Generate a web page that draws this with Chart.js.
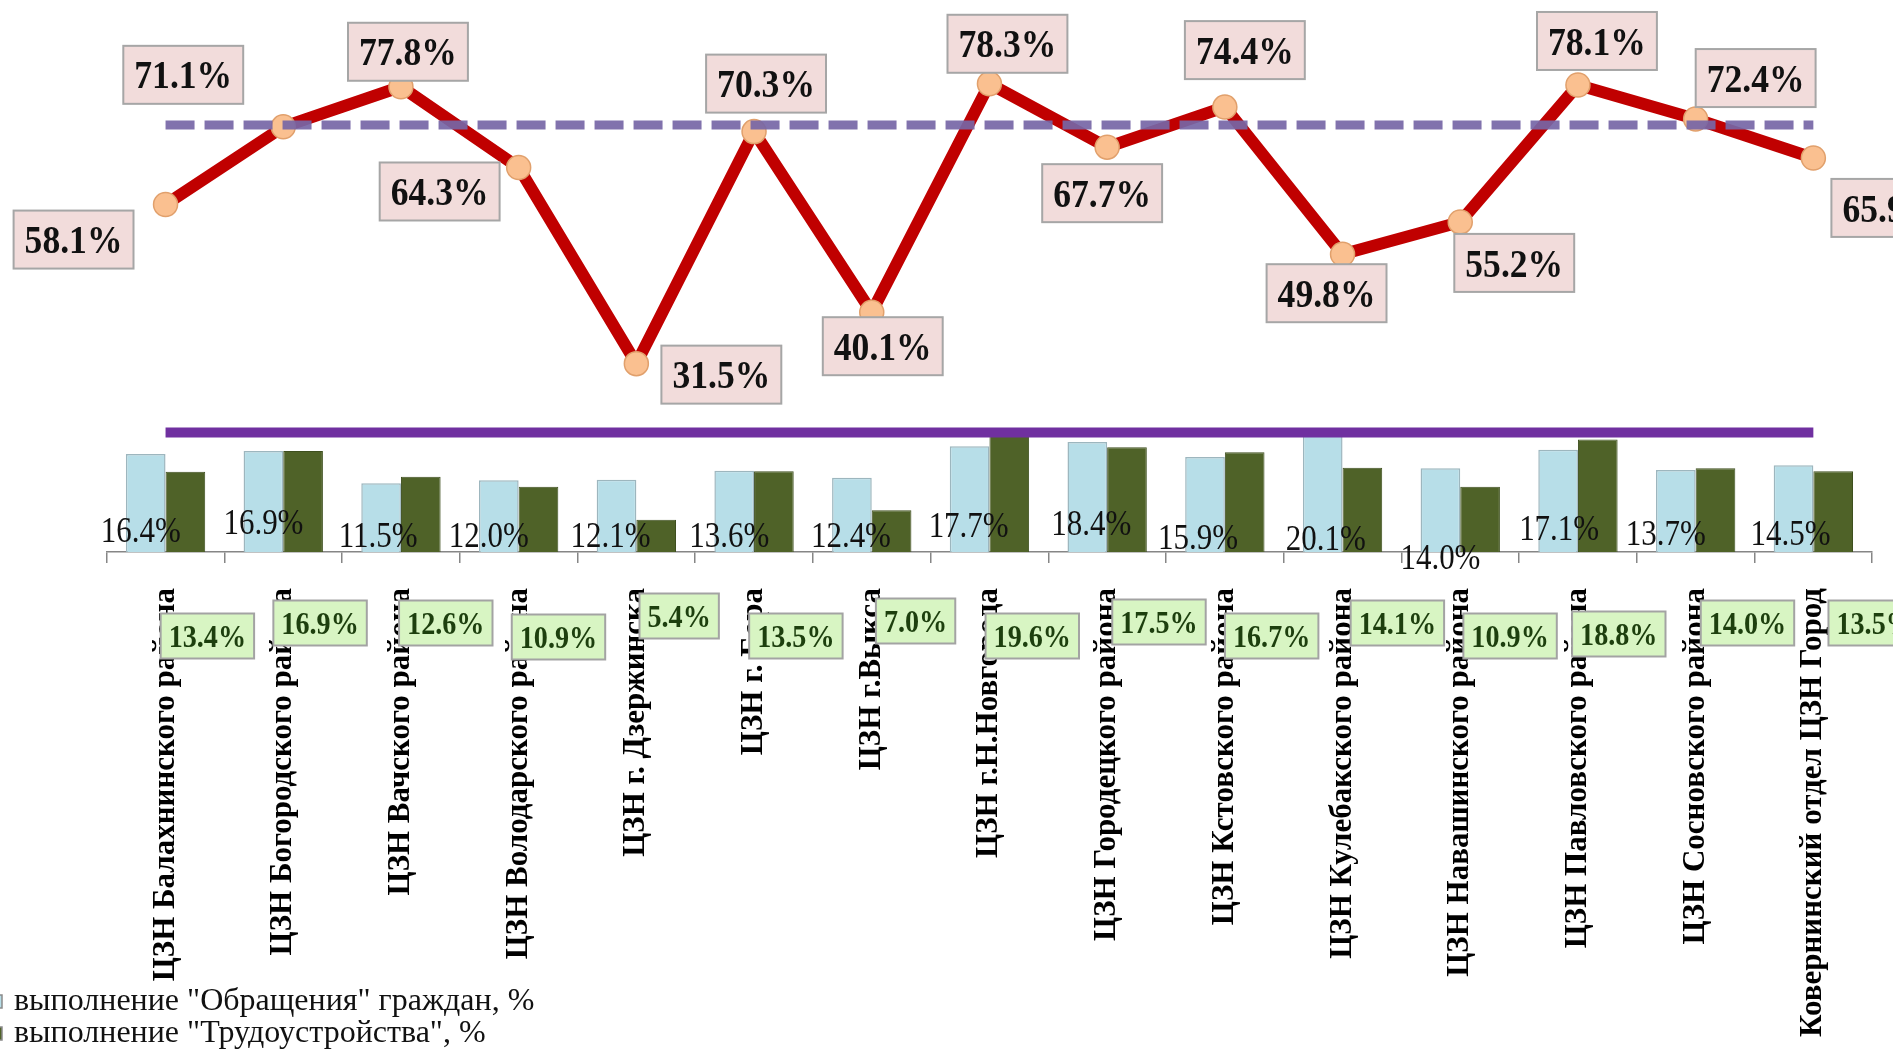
<!DOCTYPE html>
<html>
<head>
<meta charset="utf-8">
<script src="https://cdn.jsdelivr.net/npm/chart.js@4.4.0/dist/chart.umd.min.js"></script>
<style>
  html, body { margin: 0; padding: 0; background: #fff; overflow: hidden; }
  #wrap { position: relative; width: 1893px; height: 1059px; }
</style>
</head>
<body>
<div id="wrap"><canvas id="chart" width="1893" height="1059"></canvas></div>
<script>
// categories along the x-axis
const centers = [
  'ЦЗН Балахнинского района',
  'ЦЗН Богородского района',
  'ЦЗН Вачского района',
  'ЦЗН Володарского района',
  'ЦЗН г. Дзержинска',
  'ЦЗН г. Бора',
  'ЦЗН г.Выкса',
  'ЦЗН г.Н.Новгорода',
  'ЦЗН Городецкого района',
  'ЦЗН Кстовского района',
  'ЦЗН Кулебакского района',
  'ЦЗН Навашинского района',
  'ЦЗН Павловского района',
  'ЦЗН Сосновского района',
  'Ковернинский отдел ЦЗН Город'
]
// bars
const obrashcheniya = [16.4, 16.9, 11.5, 12.0, 12.1, 13.6, 12.4, 17.7, 18.4, 15.9, 20.1, 14.0, 17.1, 13.7, 14.5]
const trudoustroistvo = [13.4, 16.9, 12.6, 10.9, 5.4, 13.5, 7.0, 19.6, 17.5, 16.7, 14.1, 10.9, 18.8, 14.0, 13.5]
// red line
const dolya = [58.1, 71.1, 77.8, 64.3, 31.5, 70.3, 40.1, 78.3, 67.7, 74.4, 49.8, 55.2, 78.1, 72.4, 65.9]
// reference levels
const dolyaLevel = 71.4
const obrLevel = 20.0

const serif = "'Liberation Serif', 'Times New Roman', serif"

// hand placed label nudges, px from the point / bar
const redShift = [[-92, 35], [-100, -52], [7, -35], [-79, 24], [85, 11], [12, -48], [11, 34], [18, -40],
  [-5, 46], [20, -57], [-16, 39], [54, 41], [19, -44], [60, -41], [78, 50]]
const greenShift = [[22, 84], [17, 71], [25, 71], [20, 85], [23, 64], [22, 84], [24, 69], [23, 84],
  [32, 70], [27, 84], [35, 71], [30, 84], [21, 82], [32, 71], [42, 71]]
const blueShift = [[-5, -22], [0, -30], [-3, -17], [-10, -17], [-6, -17], [-5, -17], [-1, -17], [-1, -27],
  [4, -29], [-7, -15], [3, -14], [0, 5], [1, -24], [-10, -19], [-3, -19]]

function drawTag(ctx, cx, cy, text, o) {
  ctx.save()
  ctx.font = o.font
  const tw = ctx.measureText(text).width * o.sx
  if (o.fill) {
    const w = tw + o.padX * 2
    ctx.fillStyle = o.fill
    ctx.fillRect(cx - w / 2, cy - o.h / 2, w, o.h)
    ctx.strokeStyle = o.stroke
    ctx.lineWidth = 2
    ctx.strokeRect(cx - w / 2, cy - o.h / 2, w, o.h)
  }
  ctx.translate(cx, cy + o.size * 0.34)
  ctx.scale(o.sx, 1)
  ctx.textAlign = 'center'
  ctx.textBaseline = 'alphabetic'
  ctx.fillStyle = o.color
  ctx.fillText(text, 0, 0)
  ctx.restore()
}

const fmt = v => v.toFixed(1) + '%'

const tags = {
  id: 'tags',
  afterDraw(chart) {
    const ctx = chart.ctx
    const axisY = chart.scales.y.getPixelForValue(0)

    // blue bar values
    chart.getDatasetMeta(3).data.forEach((bar, i) => {
      drawTag(ctx, bar.x + blueShift[i][0], axisY + blueShift[i][1], fmt(obrashcheniya[i]),
        { font: '36px ' + serif, size: 36, sx: 0.86, color: '#111' })
    })
    // green bar values, boxed under the axis
    chart.getDatasetMeta(4).data.forEach((bar, i) => {
      drawTag(ctx, bar.x + greenShift[i][0], axisY + greenShift[i][1], fmt(trudoustroistvo[i]),
        { font: 'bold 32px ' + serif, size: 32, sx: 0.88, color: '#1d3f0e',
          fill: '#d8f5c3', stroke: '#a3a3a3', padX: 8, h: 45 })
    })
    // red line values
    chart.getDatasetMeta(0).data.forEach((pt, i) => {
      drawTag(ctx, pt.x + redShift[i][0], pt.y + redShift[i][1], fmt(dolya[i]),
        { font: 'bold 40px ' + serif, size: 40, sx: 0.89, color: '#111',
          fill: '#f2dcdb', stroke: '#a6a6a6', padX: 11, h: 58 })
    })

    // legend, left part cut by the picture edge
    ctx.save()
    ctx.font = '32px ' + serif
    ctx.textBaseline = 'alphabetic'
    ;[3, 4].forEach((d, k) => {
      const ds = chart.data.datasets[d]
      const base = 1010 + k * 32
      ctx.fillStyle = ds.backgroundColor
      ctx.fillRect(-12, base - 15, 14, 13)
      ctx.strokeStyle = '#8a8a8a'
      ctx.lineWidth = 1.5
      ctx.strokeRect(-12, base - 15, 14, 13)
      ctx.fillStyle = '#111'
      ctx.fillText(ds.label, 14, base)
    })
    ctx.restore()
  }
}

new Chart(document.getElementById('chart'), {
  type: 'bar',
  data: {
    labels: centers,
    datasets: [
      {
        type: 'line',
        label: 'доля трудоустроенных, %',
        data: dolya,
        borderColor: '#c00000',
        borderWidth: 12,
        pointRadius: 12,
        pointBackgroundColor: '#fac090',
        pointBorderColor: '#e1a06c',
        pointBorderWidth: 1.5,
        tension: 0,
        clip: false,
        order: 1
      },
      {
        type: 'line',
        label: 'уровень по области, %',
        data: centers.map(() => dolyaLevel),
        borderColor: 'rgba(118, 102, 166, 0.92)',
        borderWidth: 9,
        borderDash: [29, 10],
        pointRadius: 0,
        order: 0
      },
      {
        type: 'line',
        label: 'уровень "Обращения", %',
        data: centers.map(() => obrLevel),
        borderColor: '#7030a0',
        borderWidth: 10,
        pointRadius: 0,
        order: 2
      },
      {
        label: 'выполнение "Обращения" граждан, %',
        data: obrashcheniya,
        backgroundColor: '#b7dee8',
        borderColor: '#9db6be',
        borderWidth: 1.5,
        categoryPercentage: 0.674,
        barPercentage: 1.0,
        order: 3
      },
      {
        label: 'выполнение "Трудоустройства", %',
        data: trudoustroistvo,
        backgroundColor: '#4f6228',
        borderColor: '#3e4f1f',
        borderWidth: 1,
        categoryPercentage: 0.674,
        barPercentage: 1.0,
        order: 4
      }
    ]
  },
  options: {
    responsive: false,
    animation: false,
    layout: { autoPadding: false, padding: { left: 106.7, right: 20.8, top: 0, bottom: 0 } },
    plugins: {
      legend: { display: false },
      tooltip: { enabled: false }
    },
    scales: {
      x: {
        afterFit(scale) { scale.height = 507 },
        grid: {
          offset: true,
          drawOnChartArea: false,
          drawTicks: true,
          tickLength: 11,
          color: '#868686',
          lineWidth: 1.5
        },
        border: { display: true, color: '#868686', width: 1.5 },
        ticks: {
          autoSkip: false,
          minRotation: 90,
          maxRotation: 90,
          padding: 25,
          color: '#000',
          font: { family: serif, size: 31, weight: 'bold' }
        }
      },
      y: {
        display: false,
        min: 0,
        max: 92.31
      }
    }
  },
  plugins: [tags]
})
</script>
</body>
</html>
